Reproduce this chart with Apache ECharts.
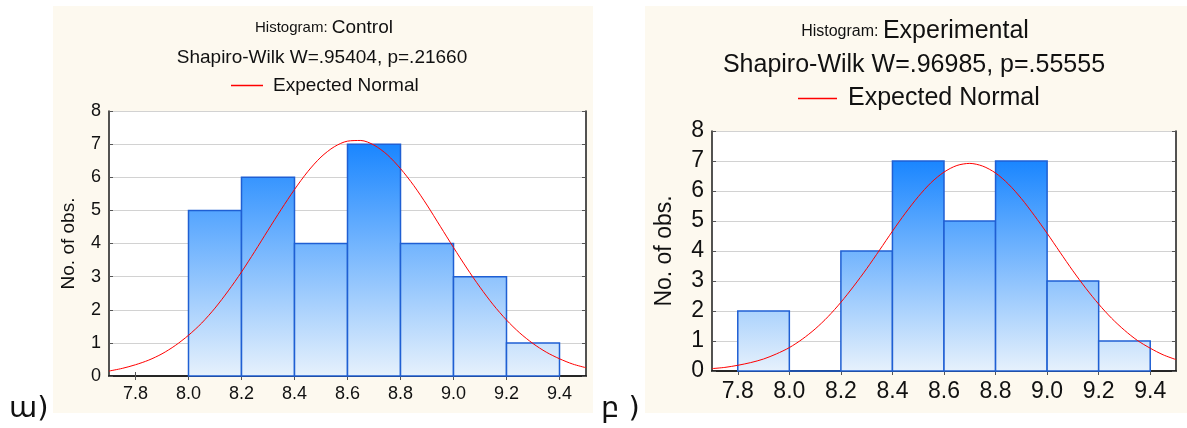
<!DOCTYPE html>
<html>
<head>
<meta charset="utf-8">
<title>Histograms</title>
<script src="https://cdn.jsdelivr.net/npm/echarts@6/dist/echarts.min.js"></script>
<style>
    html, body { margin: 0; padding: 0; background: #fff; }
    #wrap { position: relative; width: 1187px; height: 428px; overflow: hidden; }
    .panel { position: absolute; top: 6px; height: 407px; background: #fdf9ef; }
    #chart { position: absolute; left: 0; top: 0; width: 1187px; height: 428px; }
    .tag { position: absolute; font-family: 'DejaVu Sans', sans-serif; font-size: 29px; line-height: 30px; color: #111; }
</style>
</head>
<body>
<div id="wrap">
    <div class="panel" style="left:53px; width:540px;"></div>
    <div class="panel" style="left:645px; width:542px;"></div>
    <div id="chart"></div>
    <div class="tag" style="left:9px; top:392px;">ա)</div>
    <div class="tag" style="left:601px; top:392px;">բ )</div>
</div>
<script>
const FONT = 'Liberation Sans, Arial, sans-serif';
const BIN_WIDTH = 0.2;

// histogram bins (left edge) and counts
const controlStarts = [8.0, 8.2, 8.4, 8.6, 8.8, 9.0, 9.2];
const controlCounts = [5, 6, 4, 7, 4, 3, 1];
const experimentalStarts = [7.8, 8.0, 8.2, 8.4, 8.6, 8.8, 9.0, 9.2];
const experimentalCounts = [2, 0, 4, 7, 5, 7, 3, 1];

// expected normal curves, every 0.05
const curveX = [7.70, 7.75, 7.80, 7.85, 7.90, 7.95, 8.00, 8.05, 8.10, 8.15, 8.20, 8.25, 8.30,
    8.35, 8.40, 8.45, 8.50, 8.55, 8.60, 8.65, 8.70, 8.75, 8.80, 8.85, 8.90, 8.95, 9.00,
    9.05, 9.10, 9.15, 9.20, 9.25, 9.30, 9.35, 9.40, 9.45, 9.50];
const controlCurve = [0.15, 0.23, 0.34, 0.48, 0.67, 0.92, 1.23, 1.60, 2.05, 2.57, 3.14, 3.76, 4.40,
    5.03, 5.63, 6.17, 6.61, 6.92, 7.09, 7.11, 6.97, 6.68, 6.26, 5.75, 5.16, 4.52, 3.88,
    3.26, 2.68, 2.15, 1.69, 1.30, 0.98, 0.72, 0.52, 0.36, 0.25];
const experimentalCurve = [0.08, 0.12, 0.19, 0.28, 0.40, 0.57, 0.78, 1.06, 1.40, 1.81, 2.29, 2.83, 3.41,
    4.03, 4.66, 5.26, 5.81, 6.28, 6.63, 6.85, 6.92, 6.83, 6.60, 6.23, 5.75, 5.19, 4.59,
    3.96, 3.34, 2.76, 2.23, 1.76, 1.36, 1.02, 0.76, 0.54, 0.38];

// axis ticks
const xTicks = [7.8, 8.0, 8.2, 8.4, 8.6, 8.8, 9.0, 9.2, 9.4];
const xMin = 7.7, xMax = 9.5;
const yMin = 0, yMax = 8;

function barRenderer(maxCount) {
    return function (params, api) {
        const lo = api.coord([api.value(0), 0]);
        const hi = api.coord([api.value(1), api.value(2)]);
        const top = api.coord([xMin, maxCount])[1];
        const base = api.coord([xMin, 0])[1];
        const fill = new echarts.graphic.LinearGradient(0, top, 0, base, [
            { offset: 0, color: '#1a86ff' },
            { offset: 1, color: '#e6f1fc' }
        ], true);
        return {
            type: 'rect',
            shape: { x: lo[0], y: hi[1], width: hi[0] - lo[0], height: lo[1] - hi[1] },
            style: { fill: fill, stroke: '#1f5fd3', lineWidth: 1.5 }
        };
    };
}

function xAxes(gridIndex, fontSize) {
    return [{
        type: 'value', gridIndex: gridIndex, min: xMin, max: xMax, position: 'bottom',
        axisLine: { onZero: false, lineStyle: { color: '#1a1a1a', width: 1.5 } },
        axisTick: { inside: true, length: 4, customValues: xTicks, lineStyle: { color: '#555' } },
        axisLabel: { customValues: xTicks, color: '#111', fontFamily: FONT, fontSize: fontSize, margin: 9,
            formatter: (v) => v.toFixed(1) },
        splitLine: { show: false }
    }, {
        type: 'value', gridIndex: gridIndex, min: xMin, max: xMax, position: 'top',
        axisLine: { lineStyle: { color: '#1a1a1a', width: 1.5 } },
        axisTick: { inside: true, length: 4, customValues: xTicks, lineStyle: { color: '#555' } },
        axisLabel: { show: false },
        splitLine: { show: false }
    }];
}

function yAxes(gridIndex, fontSize, nameSize, nameGap) {
    return [{
        type: 'value', gridIndex: gridIndex, min: yMin, max: yMax, interval: 1,
        name: 'No. of obs.', nameLocation: 'middle', nameGap: nameGap,
        nameTextStyle: { color: '#111', fontFamily: FONT, fontSize: nameSize },
        axisLine: { show: true, lineStyle: { color: '#1a1a1a', width: 1.5 } },
        axisTick: { show: true, inside: true, length: 4, lineStyle: { color: '#555' } },
        axisLabel: { color: '#111', fontFamily: FONT, fontSize: fontSize, margin: 8 },
        splitLine: { lineStyle: { color: '#d2d2d2', width: 1.2 } }
    }, {
        type: 'value', gridIndex: gridIndex, min: yMin, max: yMax, interval: 1, position: 'right',
        axisLine: { show: true, lineStyle: { color: '#1a1a1a', width: 1.5 } },
        axisTick: { show: true, inside: true, length: 4, lineStyle: { color: '#555' } },
        axisLabel: { show: false },
        splitLine: { show: false }
    }];
}

function titleText(title, smallSize, bigSize) {
    return {
        text: '{s|Histogram: }{b|' + title + '}',
        textStyle: {
            fontWeight: 'normal',
            rich: {
                s: { fontFamily: FONT, fontSize: smallSize, fontWeight: 'normal', color: '#111' },
                b: { fontFamily: FONT, fontSize: bigSize, fontWeight: 'normal', color: '#111' }
            }
        }
    };
}

const chart = echarts.init(document.getElementById('chart'));

chart.setOption({
    animation: false,
    backgroundColor: 'transparent',
    title: [
        Object.assign({ left: 324, top: 18, textAlign: 'center', padding: 0 }, titleText('Control', 15, 19)),
        { text: 'Shapiro-Wilk W=.95404, p=.21660', left: 322, top: 48, textAlign: 'center', padding: 0,
            textStyle: { fontFamily: FONT, fontSize: 19, fontWeight: 'normal', color: '#111' } },
        Object.assign({ left: 915, top: 19, textAlign: 'center', padding: 0 }, titleText('Experimental', 16, 25)),
        { text: 'Shapiro-Wilk W=.96985, p=.55555', left: 914, top: 53, textAlign: 'center', padding: 0,
            textStyle: { fontFamily: FONT, fontSize: 25, fontWeight: 'normal', color: '#111' } }
    ],
    legend: [{
        data: ['Expected Normal'], left: 231, top: 76, padding: 0, selectedMode: false,
        icon: 'rect', itemWidth: 32, itemHeight: 1.5,
        textStyle: { fontFamily: FONT, fontSize: 19, color: '#111', padding: [0, 0, 0, 5] }
    }, {
        data: ['Expected Normal'], left: 798, top: 86, padding: 0, selectedMode: false,
        icon: 'rect', itemWidth: 39, itemHeight: 1.5,
        textStyle: { fontFamily: FONT, fontSize: 25, color: '#111', padding: [0, 0, 0, 6] }
    }],
    grid: [
        { left: 109, top: 111, width: 477, height: 265, show: true, backgroundColor: '#fff', borderColor: '#1a1a1a', borderWidth: 0 },
        { left: 712, top: 131, width: 464, height: 240, show: true, backgroundColor: '#fff', borderColor: '#1a1a1a', borderWidth: 0 }
    ],
    xAxis: [...xAxes(0, 18), ...xAxes(1, 23)],
    yAxis: [...yAxes(0, 18, 19, 31), ...yAxes(1, 23, 23, 36)],
    series: [{
        type: 'custom', name: 'Control',
        xAxisIndex: 0, yAxisIndex: 0,
        renderItem: barRenderer(Math.max(...controlCounts)),
        encode: { x: [0, 1], y: 2 },
        data: controlStarts.map((s, i) => [s, +(s + BIN_WIDTH).toFixed(1), controlCounts[i]])
    }, {
        type: 'line', name: 'Expected Normal',
        xAxisIndex: 0, yAxisIndex: 0,
        data: curveX.map((x, i) => [x, controlCurve[i]]),
        smooth: 0.3, showSymbol: false, symbol: 'none', clip: true, z: 5,
        lineStyle: { color: '#ff0000', width: 1 }, itemStyle: { color: '#ff0000' }
    }, {
        type: 'custom', name: 'Experimental',
        xAxisIndex: 2, yAxisIndex: 2,
        renderItem: barRenderer(Math.max(...experimentalCounts)),
        encode: { x: [0, 1], y: 2 },
        data: experimentalStarts.map((s, i) => [s, +(s + BIN_WIDTH).toFixed(1), experimentalCounts[i]])
    }, {
        type: 'line', name: 'Expected Normal',
        xAxisIndex: 2, yAxisIndex: 2,
        data: curveX.map((x, i) => [x, experimentalCurve[i]]),
        smooth: 0.3, showSymbol: false, symbol: 'none', clip: true, z: 5,
        lineStyle: { color: '#ff0000', width: 1 }, itemStyle: { color: '#ff0000' }
    }]
});
</script>
</body>
</html>
